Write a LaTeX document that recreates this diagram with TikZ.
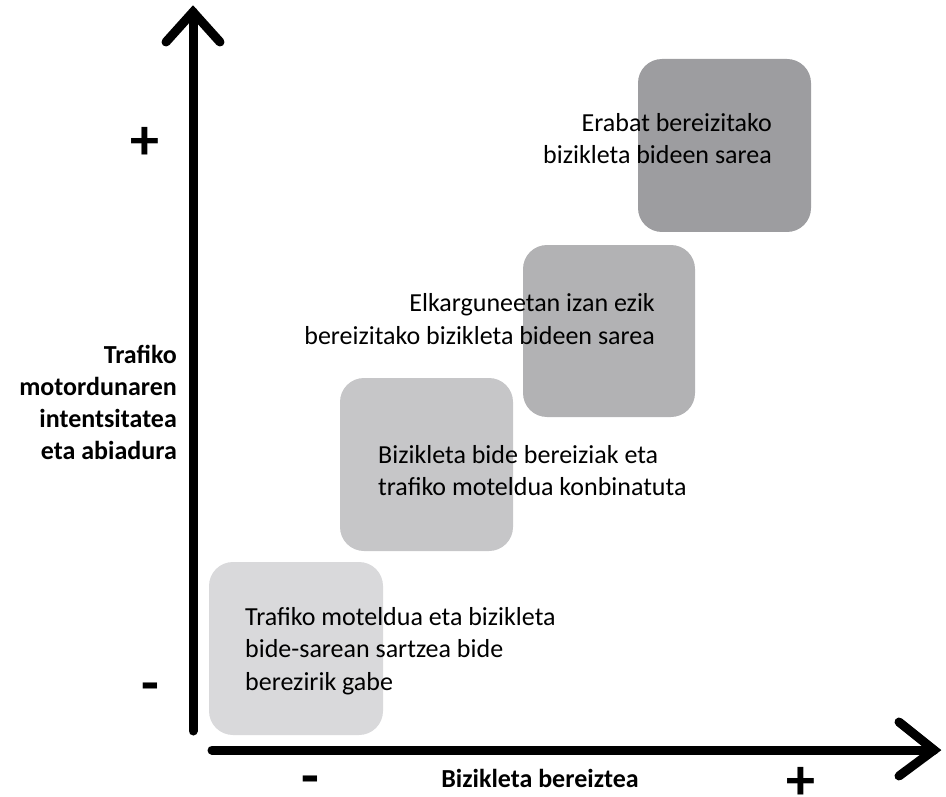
\documentclass[tikz,border=0pt]{standalone}
\usepackage{fontspec}
\setmainfont{Carlito}
\definecolor{boxA}{HTML}{D9D9DB}
\definecolor{boxB}{HTML}{C6C6C8}
\definecolor{boxC}{HTML}{B2B2B4}
\definecolor{boxD}{HTML}{9D9DA0}
\tikzset{
  stage/.style={fill=#1, draw=none, rounded corners=24pt},
  axisline/.style={line width=9pt, line cap=round, line join=miter, black},
  stagetext/.style={inner sep=0pt, font=\fontsize{26}{32.5}\selectfont},
  axislabel/.style={inner sep=0pt, font=\fontsize{26}{32}\selectfont\bfseries},
  signlabel/.style={inner sep=0pt, font=\fontsize{58}{60}\selectfont\bfseries}
}
\begin{document}
\begin{tikzpicture}[x=1pt, y=-1pt]
  \useasboundingbox (0,0) rectangle (946,797);

  % stage boxes
  \path[stage=boxA] (209,562) rectangle (383,735);
  \path[stage=boxB] (340,378) rectangle (513,551);
  \path[stage=boxC] (523,245) rectangle (695,417);
  \path[stage=boxD] (638,59) rectangle (811,232);

  % axes
  \coordinate (vbase) at (193,731);
  \coordinate (vtip) at (193,12);
  \coordinate (vl) at (166,42);
  \coordinate (vr) at (220,42);
  \coordinate (hbase) at (212,750);
  \coordinate (htip) at (934,750);
  \coordinate (hu) at (899,722);
  \coordinate (hd) at (899,776);
  \draw[axisline] (vbase) -- (vtip);
  \draw[axisline] (vl) -- (vtip) -- (vr);
  \draw[axisline] (hbase) -- (htip);
  \draw[axisline] (hu) -- (htip) -- (hd);

  % stage descriptions (anchored at the baseline of the last line)
  \node[stagetext, anchor=base west, align=left] (t1) at (245,690)
    {Trafiko moteldua eta bizikleta\\bide-sarean sartzea bide\\berezirik gabe};
  \node[stagetext, anchor=base west, align=left] (t2) at (378,495.5)
    {Bizikleta bide bereiziak eta\\trafiko moteldua konbinatuta};
  \node[stagetext, anchor=base east, align=right] (t3) at (655,344)
    {Elkarguneetan izan ezik\\bereizitako bizikleta bideen sarea};
  \node[stagetext, anchor=base east, align=right] (t4) at (772,164)
    {Erabat bereizitako\\bizikleta bideen sarea};

  % axis titles
  \node[axislabel, anchor=base east, align=right] (ylab) at (177,459)
    {Trafiko\\motordunaren\\intentsitatea\\eta abiadura};
  \node[axislabel, anchor=base] (xlab) at (540,787) {Bizikleta bereiztea};

  % scale signs
  \node[signlabel] (yplus) at (145,143) {+};
  \node[signlabel] (yminus) at (150,693) {-};
  \node[signlabel] (xminus) at (310,786) {-};
  \node[signlabel] (xplus) at (801,783) {+};
\end{tikzpicture}
\end{document}
